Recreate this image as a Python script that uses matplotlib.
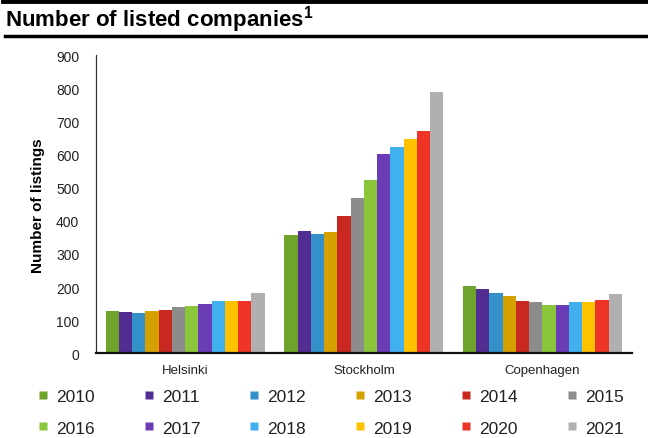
import numpy as np
import matplotlib
matplotlib.use("Agg")
import matplotlib.pyplot as plt
from matplotlib.lines import Line2D

plt.rcParams["font.family"] = ["Liberation Sans", "DejaVu Sans"]

# ── Data ──────────────────────────────────────────────────────────────────────
exchanges = ["Helsinki", "Stockholm", "Copenhagen"]
years = [str(y) for y in range(2010, 2022)]

helsinki = [128, 125, 122, 128, 132, 139, 144, 149, 158, 158, 158, 182]
stockholm = [357, 368, 359, 366, 415, 470, 524, 603, 622, 646, 672, 790]
copenhagen = [204, 194, 182, 172, 158, 156, 146, 146, 154, 154, 161, 178]

year_colors = ["#6fa32b", "#522d91", "#3390c8", "#d4a100", "#c8281f", "#8c8c8c",
               "#8bc53a", "#6a3cb5", "#41b0ee", "#fec200", "#ee3427", "#b0b0b0"]

yticks = list(range(0, 901, 100))

# ── Figure ────────────────────────────────────────────────────────────────────
fig = plt.figure(figsize=(6.48, 4.39), dpi=100)
ax = fig.add_axes([0.148, 0.193, 0.827, 0.679])

values = np.array([helsinki, stockholm, copenhagen])  # shape (3, 12)
n = len(years)
group_w = 0.89
bar_w = group_w / n
x = np.arange(len(exchanges))

for i, yr in enumerate(years):
    offs = -group_w / 2 + bar_w * (i + 0.5)
    ax.bar(x + offs, values[:, i], width=bar_w, color=year_colors[i],
           edgecolor="none", label=yr)

ax.set_xlim(-0.5, len(exchanges) - 0.5)
ax.set_ylim(0, 900)
ax.set_yticks(yticks)
ax.set_xticks(x)
ax.set_xticklabels(exchanges)
ax.tick_params(axis="both", length=0, labelsize=10, colors="#222222")
ax.tick_params(axis="x", labelsize=9.5, pad=8)
ax.tick_params(axis="y", pad=12)

for s in ["top", "right"]:
    ax.spines[s].set_visible(False)
ax.spines["left"].set_color("#333333")
ax.spines["left"].set_linewidth(0.9)
ax.spines["bottom"].set_color("#111111")
ax.spines["bottom"].set_linewidth(1.6)

ax.set_ylabel("Number of listings", fontsize=11, fontweight="bold", labelpad=8)

# legend: two rows of six, filled row by row
handles = [Line2D([], [], marker="s", linestyle="none", markersize=6,
                  markerfacecolor=c, markeredgecolor="none") for c in year_colors]
order = []
for col in range(6):
    order += [col, col + 6]
fig.legend([handles[k] for k in order], [years[k] for k in order],
           ncol=6, loc="lower left", bbox_to_anchor=(0.034, -0.03),
           frameon=False, fontsize=12.5, handlelength=0.6, handletextpad=0.45,
           columnspacing=2.82, labelspacing=0.95, labelcolor="#222222")

# header rules and title
fig.add_artist(Line2D([0.005, 1.0], [0.9965, 0.9965], color="black", lw=3.5))
fig.add_artist(Line2D([0.008, 1.0], [0.915, 0.915], color="black", lw=2.5))
fig.text(0.008, 0.94, "Number of listed companies$^{\\mathregular{1}}$",
         fontsize=16, fontweight="bold", va="baseline", ha="left")

fig.savefig("out.png", dpi=100)
